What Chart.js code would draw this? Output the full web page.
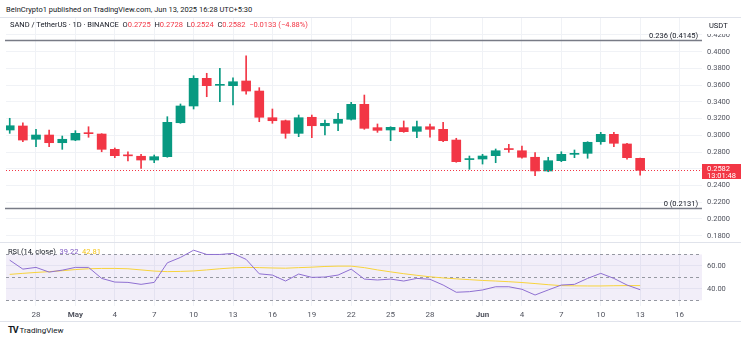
<!DOCTYPE html>
<html><head><meta charset="utf-8">
<script src="https://cdn.jsdelivr.net/npm/chart.js@4.4.0/dist/chart.umd.min.js"></script>
<style>
html,body{margin:0;padding:0;background:#fff;width:741px;height:338px;overflow:hidden;font-family:Roboto,"Liberation Sans",sans-serif;}
#wrap{position:relative;width:741px;height:338px;}
.t{position:absolute;white-space:nowrap;color:#131722;line-height:1;}
.ln{position:absolute;background:#e0e3eb;}
canvas{position:absolute;left:0;}
#c1{top:18px;}
#c2{top:243px;}
.r{color:#f23645;}
</style></head>
<body><div id="wrap">
<canvas id="c1" width="741" height="225"></canvas>
<canvas id="c2" width="741" height="78"></canvas>
<div class="ln" style="left:0;top:17px;width:741px;height:1px;"></div>
<div class="ln" style="left:0;top:242px;width:741px;height:1px;"></div>
<div class="ln" style="left:0;top:321px;width:741px;height:1px;"></div>
<div class="t" style="left:6px;top:6px;font-size:7.5px;">BeInCrypto1 published on TradingView.com, Jun 13, 2025 16:28 UTC+5:30</div>
<div class="t" style="left:10px;top:21px;font-size:7.5px;">SAND / TetherUS · 1D · BINANCE&nbsp;&nbsp;O<span class="r">0.2725</span>&nbsp;&nbsp;H<span class="r">0.2728</span>&nbsp;&nbsp;L<span class="r">0.2524</span>&nbsp;&nbsp;C<span class="r">0.2582</span>&nbsp;&nbsp;<span class="r">−0.0133 (−4.88%)</span></div>
<div class="t" style="left:703px;top:18px;width:38px;height:16px;background:#fff;"></div>
<div class="t" style="left:709px;top:22px;font-size:7.5px;">USDT</div>
<div class="t" style="left:8px;top:248px;font-size:7.5px;">RSI (14, close)&nbsp;&nbsp;<span style="color:#7e57c2">39.22</span>&nbsp;&nbsp;<span style="color:#f5c518">42.81</span></div>
<div class="t" style="left:8px;top:326px;font-size:8px;"><b style="letter-spacing:-1px;font-size:9px;">TV</b>&nbsp;TradingView</div>
</div>
<script>
const days = ['Apr 26','Apr 27','Apr 28','Apr 29','Apr 30','May 1','May 2','May 3','May 4','May 5','May 6','May 7','May 8','May 9','May 10','May 11','May 12','May 13','May 14','May 15','May 16','May 17','May 18','May 19','May 20','May 21','May 22','May 23','May 24','May 25','May 26','May 27','May 28','May 29','May 30','May 31','Jun 1','Jun 2','Jun 3','Jun 4','Jun 5','Jun 6','Jun 7','Jun 8','Jun 9','Jun 10','Jun 11','Jun 12','Jun 13'];
const open  = [0.3064,0.3112,0.2953,0.3004,0.2912,0.2944,0.3030,0.3016,0.2833,0.2762,0.2750,0.2705,0.2745,0.3151,0.3351,0.3682,0.3598,0.3594,0.3650,0.3530,0.3211,0.3175,0.3024,0.3216,0.3115,0.3144,0.3192,0.3371,0.3092,0.3064,0.3092,0.3048,0.3103,0.3072,0.2944,0.2710,0.2717,0.2757,0.2837,0.2816,0.2738,0.2574,0.2697,0.2773,0.2785,0.2924,0.3012,0.2897,0.2725];
const close = [0.3115,0.2944,0.3004,0.2912,0.2953,0.3024,0.3020,0.2833,0.2757,0.2755,0.2705,0.2745,0.3156,0.3351,0.3682,0.3594,0.3602,0.3641,0.3530,0.3216,0.3175,0.3024,0.3211,0.3115,0.3144,0.3192,0.3371,0.3084,0.3060,0.3096,0.3044,0.3103,0.3072,0.2936,0.2685,0.2715,0.2753,0.2816,0.2830,0.2738,0.2574,0.2697,0.2773,0.2780,0.2917,0.3012,0.2905,0.2733,0.2582];
const high  = [0.3204,0.3151,0.3072,0.3064,0.2992,0.3056,0.3103,0.3020,0.2849,0.2804,0.2773,0.2765,0.3223,0.3375,0.3713,0.3742,0.3802,0.3689,0.3952,0.3570,0.3315,0.3183,0.3243,0.3243,0.3183,0.3264,0.3395,0.3482,0.3136,0.3103,0.3172,0.3172,0.3136,0.3156,0.2965,0.2753,0.2773,0.2837,0.2893,0.2873,0.2793,0.2738,0.2804,0.2825,0.2924,0.3036,0.3036,0.2905,0.2728];
const low   = [0.3024,0.2924,0.2864,0.2864,0.2833,0.2936,0.2977,0.2804,0.2733,0.2693,0.2606,0.2673,0.2738,0.3144,0.3315,0.3462,0.3402,0.3363,0.3491,0.3163,0.3144,0.2965,0.2984,0.2972,0.3004,0.3056,0.3183,0.3072,0.3036,0.2936,0.3036,0.2972,0.2977,0.2924,0.2678,0.2594,0.2657,0.2673,0.2797,0.2726,0.2518,0.2565,0.2685,0.2733,0.2726,0.2893,0.2864,0.2714,0.2524];
const rsi   = [65.0,57.2,58.7,54.6,56.3,58.7,58.7,49.1,45.9,45.6,43.9,45.6,62.7,67.4,73.7,70.0,70.0,70.9,65.7,53.1,52.0,46.8,52.9,50.0,50.3,52.0,57.2,48.5,47.7,48.5,46.8,49.1,48.3,43.3,37.0,37.5,39.0,41.8,41.8,39.6,34.6,39.0,43.3,43.9,49.1,53.5,49.1,43.3,39.22];
const rsiMa = [52.6,53.5,54.3,55.0,55.8,56.8,57.5,57.8,57.8,57.5,56.5,55.5,55.0,55.2,55.6,56.5,57.5,58.3,58.7,58.5,58.2,58.0,58.5,58.9,59.5,59.8,59.8,58.5,56.5,54.8,53.2,51.8,50.5,49.5,48.7,48.0,47.3,46.8,46.2,45.5,44.6,43.6,42.8,42.6,42.5,42.5,42.7,42.8,42.81];
const tickIdx    = [2,5,8,11,14,17,20,23,26,29,32,36,39,42,45,48,51];
const tickLabels = ['28','May','4','7','10','13','16','19','22','25','28','Jun','4','7','10','13','16'];
const boldLabels = ['May','Jun'];
const priceTicks = [0.18,0.20,0.22,0.24,0.26,0.28,0.30,0.32,0.34,0.36,0.38,0.40,0.42];
const rsiTicks   = [40,60];
const rsiBands   = [70,50,30];
const fibLevels  = [0.4145,0.2131];
const fibNames   = ['0.236','0'];
const lastClose  = 0.2582;
const countdown  = '13:01:48';

Chart.defaults.font.family = 'Roboto, "Liberation Sans", sans-serif';
const UP='#089981', DN='#f23645', GRID='#f0f2f6', TXT='#50535e';
const cols = open.map((o,i)=> close[i]>=o ? UP : DN);
const XMIN=-0.284, XMAX=52.71;

function xScale(showLabels){
  return {
    type:'linear', min:XMIN, max:XMAX, offset:false,
    grid:{color:GRID, offset:false, drawTicks:false},
    border:{display:false},
    afterBuildTicks(s){ s.ticks = tickIdx.map(v=>({value:v})); },
    afterFit(s){ s.height = showLabels ? 15 : 0; s.paddingLeft = 0; s.paddingRight = 0; },
    ticks:{display:showLabels, padding:4, maxRotation:0, autoSkip:false, color:TXT,
      callback:(v,i)=>tickLabels[i],
      font:(c)=>({size:8, weight: boldLabels.includes(tickLabels[c.index]) ? 'bold':'normal'})}
  };
}
function yFit(s){ s.width = 39; s.paddingTop = 0; s.paddingBottom = 0; }

const pricePlugin = {
  id:'pp',
  afterDatasetsDraw(chart){
    const {ctx, chartArea:a, scales:{y}} = chart;
    ctx.save();
    fibLevels.forEach((lv,i)=>{
      const py = Math.round(y.getPixelForValue(lv))+0.5;
      ctx.strokeStyle='#787b86'; ctx.lineWidth=1.3; ctx.setLineDash([]);
      ctx.beginPath(); ctx.moveTo(a.left-1,py); ctx.lineTo(a.right,py); ctx.stroke();
      ctx.fillStyle='#131722'; ctx.font='7.5px Roboto'; ctx.textAlign='right'; ctx.textBaseline='alphabetic';
      ctx.fillText(fibNames[i]+' ('+lv.toFixed(4)+')', a.right-4, py-3);
    });
    const cy = Math.round(y.getPixelForValue(lastClose))+0.5;
    ctx.strokeStyle=DN; ctx.lineWidth=1; ctx.setLineDash([1,2]);
    ctx.beginPath(); ctx.moveTo(a.left,cy); ctx.lineTo(a.right,cy); ctx.stroke();
    ctx.restore();
  },
  afterDraw(chart){
    const {ctx, chartArea:a, scales:{y}} = chart;
    const cy = y.getPixelForValue(lastClose);
    ctx.save();
    ctx.fillStyle=DN;
    ctx.fillRect(a.right, Math.round(cy-6), chart.width-a.right, 15);
    ctx.fillStyle='#fff'; ctx.font='7.5px Roboto'; ctx.textAlign='left'; ctx.textBaseline='middle';
    ctx.fillText(lastClose.toFixed(4), a.right+5, cy-1.5);
    ctx.fillText(countdown, a.right+5, cy+5.5);
    ctx.restore();
  }
};

new Chart(document.getElementById('c1'), {
  type:'bar',
  data:{ datasets:[
    {data: open.map((o,i)=>({x:i, y:[o, close[i]]})), backgroundColor:cols, barThickness:9, minBarLength:1, grouped:false, borderWidth:0},
    {data: low.map((l,i)=>({x:i, y:[l, high[i]]})), backgroundColor:cols, barThickness:1, grouped:false, borderWidth:0}
  ]},
  options:{
    responsive:false, animation:false, events:[],
    layout:{padding:{left:6,right:0,top:0,bottom:0}},
    plugins:{legend:{display:false}, tooltip:{enabled:false}},
    scales:{
      x: xScale(false),
      y:{ position:'right', min:0.1713, max:0.4403,
        grid:{color:GRID, drawTicks:false}, border:{display:false},
        afterBuildTicks(s){ s.ticks = priceTicks.map(v=>({value:v})); },
        afterFit: yFit,
        ticks:{padding:5, color:TXT, font:{size:7.5}, crossAlign:'near', callback:v=>v.toFixed(4)} }
    }
  },
  plugins:[pricePlugin]
});

const rsiPlugin = {
  id:'rp',
  beforeDatasetsDraw(chart){
    const {ctx, chartArea:a, scales:{y}} = chart;
    ctx.save();
    const t = y.getPixelForValue(rsiBands[0]), b = y.getPixelForValue(rsiBands[2]);
    ctx.fillStyle='rgba(126,87,194,0.1)';
    ctx.fillRect(a.left, t, a.right-a.left, b-t);
    ctx.strokeStyle='#9598a1'; ctx.lineWidth=1; ctx.setLineDash([3,3]);
    rsiBands.forEach(v=>{
      const py = Math.round(y.getPixelForValue(v))+0.5;
      ctx.beginPath(); ctx.moveTo(a.left,py); ctx.lineTo(a.right,py); ctx.stroke();
    });
    ctx.restore();
  }
};

new Chart(document.getElementById('c2'), {
  type:'line',
  data:{ datasets:[
    {data: rsi.map((v,i)=>({x:i,y:v})), borderColor:'#8e6fd1', borderWidth:1, pointRadius:0, tension:0},
    {data: rsiMa.map((v,i)=>({x:i,y:v})), borderColor:'#f7d33c', borderWidth:1, pointRadius:0, tension:0}
  ]},
  options:{
    responsive:false, animation:false, events:[],
    layout:{padding:{left:6,right:0,top:0,bottom:0}},
    plugins:{legend:{display:false}, tooltip:{enabled:false}},
    scales:{
      x: xScale(true),
      y:{ position:'right', min:25, max:80,
        grid:{color:GRID, drawTicks:false}, border:{display:false},
        afterBuildTicks(s){ s.ticks = rsiTicks.map(v=>({value:v})); },
        afterFit: yFit,
        ticks:{padding:5, color:TXT, font:{size:7.5}, crossAlign:'near', callback:v=>v.toFixed(2)} }
    }
  },
  plugins:[rsiPlugin]
});
</script>
</body></html>
